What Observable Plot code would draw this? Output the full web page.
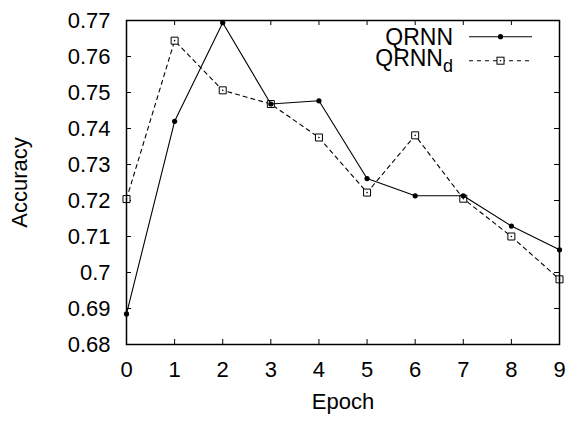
<!DOCTYPE html>
<html><head><meta charset="utf-8">
<script src="https://cdn.jsdelivr.net/npm/d3@7"></script>
<script src="https://cdn.jsdelivr.net/npm/@observablehq/plot@0.6"></script>
<style>body{margin:0;background:#fff}</style>
</head><body><div id="chart"></div>
<script>
const epochs = [0, 1, 2, 3, 4, 5, 6, 7, 8, 9];
const qrnn  = [0.6885, 0.7420, 0.7694, 0.7468, 0.7477, 0.7261, 0.7213, 0.7213, 0.7129, 0.7063];
const qrnnD = [0.7204, 0.7644, 0.7506, 0.7468, 0.7375, 0.7222, 0.7381, 0.7205, 0.7100, 0.6981];
const xTicks = [0, 1, 2, 3, 4, 5, 6, 7, 8, 9];
const yTicks = [0.68, 0.69, 0.70, 0.71, 0.72, 0.73, 0.74, 0.75, 0.76, 0.77];
const seriesLabels = ["QRNN", "QRNN"];
const xTitle = "Epoch";
const yTitle = "Accuracy";

const W = 571, H = 421, mL = 126, mR = 12, mT = 20, mB = 77;
const pw = W - mL - mR, ph = H - mT - mB, tk = 5;
const FONT = "'Liberation Sans', Arial, Helvetica, sans-serif";

const dataA = epochs.map((e, i) => ({x: e, y: qrnn[i]}));
const dataB = epochs.map((e, i) => ({x: e, y: qrnnD[i]}));

function legend(index, scales, values, dims) {
  const right = dims.width - dims.marginRight, top = dims.marginTop;
  const g = d3.create("svg:g").attr("font-family", FONT);
  const t = g.append("text").attr("text-anchor", "end").attr("font-size", 23);
  t.append("tspan").attr("x", right - 106).attr("y", top + 25).text(seriesLabels[0]);
  t.append("tspan").attr("x", right - 106).attr("y", top + 46).text(seriesLabels[1]);
  t.append("tspan").attr("font-size", 18).attr("dy", 6).text("d");
  // row 1 sample
  g.append("line").attr("x1", right - 90).attr("x2", right - 27).attr("y1", top + 16.7).attr("y2", top + 16.7)
    .attr("stroke", "black").attr("stroke-width", 1.1);
  g.append("circle").attr("cx", right - 58.5).attr("cy", top + 16.7).attr("r", 2.6).attr("fill", "black");
  // row 2 sample
  g.append("line").attr("x1", right - 90).attr("x2", right - 27).attr("y1", top + 40.7).attr("y2", top + 40.7)
    .attr("stroke", "black").attr("stroke-width", 1.1).attr("stroke-dasharray", "4,4");
  g.append("rect").attr("x", right - 58.5 - 3.5).attr("y", top + 40.7 - 3.5).attr("width", 7).attr("height", 7)
    .attr("fill", "white").attr("stroke", "black").attr("stroke-width", 1);
  g.append("circle").attr("cx", right - 58.5).attr("cy", top + 40.7).attr("r", 0.8).attr("fill", "black");
  return g.node();
}

const chart = Plot.plot({
  width: W, height: H,
  marginLeft: mL, marginRight: mR, marginTop: mT, marginBottom: mB,
  style: {fontFamily: FONT, fontSize: "22px", color: "black", background: "white"},
  x: {domain: [0, 9]},
  y: {domain: [0.68, 0.77]},
  marks: [
    Plot.axisX(xTicks, {tickSize: 0, tickPadding: 17, fontSize: 22, label: null}),
    Plot.axisY(yTicks, {tickSize: 0, tickPadding: 16, fontSize: 22, label: null,
      tickFormat: d => String(+d.toFixed(2))}),
    Plot.tickX(xTicks, {x: d => d, insetTop: ph - tk, stroke: "black"}),
    Plot.tickX(xTicks, {x: d => d, insetBottom: ph - tk, stroke: "black"}),
    Plot.tickY(yTicks, {y: d => d, insetRight: pw - tk, stroke: "black"}),
    Plot.tickY(yTicks, {y: d => d, insetLeft: pw - tk, stroke: "black"}),
    Plot.line(dataB, {x: "x", y: "y", stroke: "black", strokeWidth: 1.1, strokeDasharray: "4,4"}),
    Plot.dot(dataB, {x: "x", y: "y", symbol: "square", r: 3.95, fill: "white", stroke: "black", strokeWidth: 1}),
    Plot.dot(dataB, {x: "x", y: "y", r: 0.8, fill: "black"}),
    Plot.line(dataA, {x: "x", y: "y", stroke: "black", strokeWidth: 1.1}),
    Plot.dot(dataA, {x: "x", y: "y", r: 2.6, fill: "black"}),
    Plot.frame({stroke: "black", strokeWidth: 1.5}),
    Plot.text([yTitle], {text: d => d, frameAnchor: "left", dx: -107, rotate: -90, fontSize: 22,
      textAnchor: "middle", lineAnchor: "middle"}),
    Plot.text([xTitle], {text: d => d, frameAnchor: "bottom", dy: 57, fontSize: 22,
      textAnchor: "middle", lineAnchor: "middle"}),
    legend
  ]
});
document.getElementById("chart").appendChild(chart);
</script>
</body></html>
